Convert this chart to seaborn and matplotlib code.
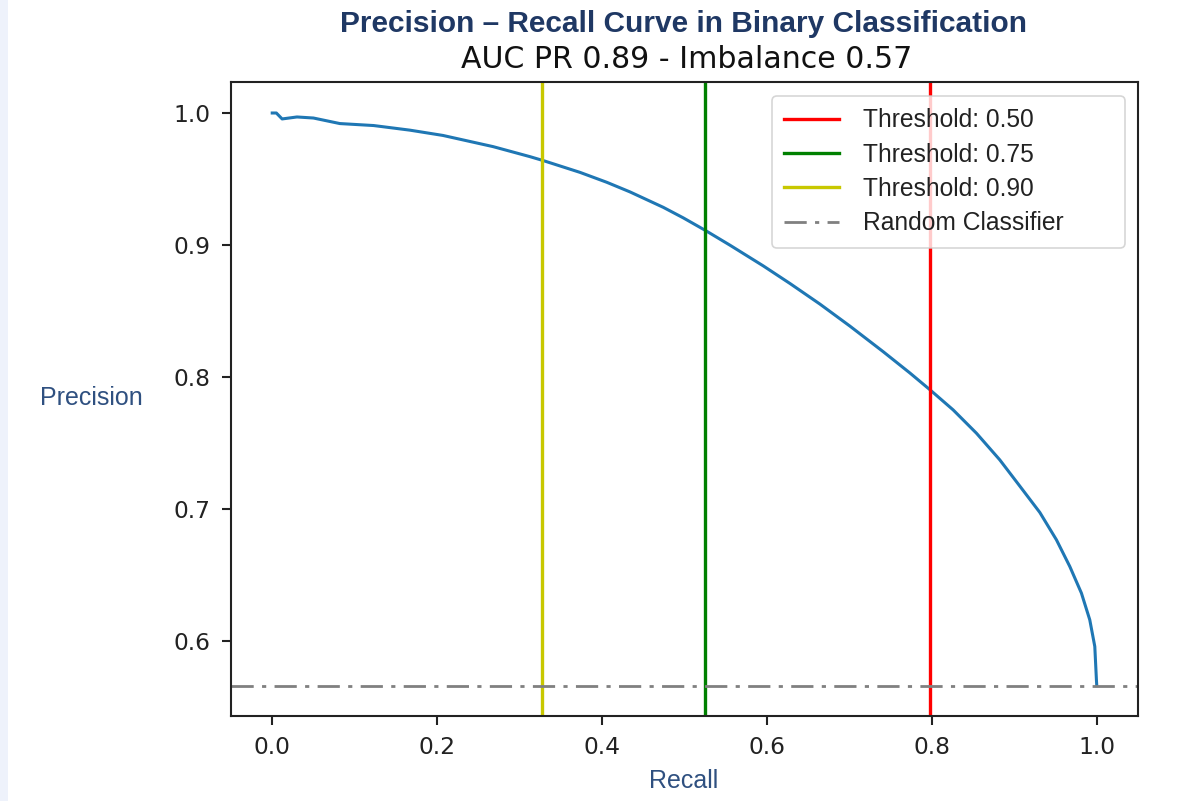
import matplotlib
matplotlib.use("Agg")
import matplotlib.pyplot as plt
import seaborn as sns
import pandas as pd
from matplotlib.patches import Rectangle

# ---- data ----
recall = [0.0, 0.005, 0.012, 0.03, 0.05, 0.082, 0.123, 0.167, 0.207, 0.268,
          0.3127, 0.3289, 0.3733, 0.4057, 0.4339, 0.4743, 0.4986, 0.5248, 0.5552,
          0.5956, 0.6279, 0.6642, 0.7006, 0.7410, 0.7733, 0.7976,
          0.8258, 0.8541, 0.8824, 0.9067, 0.9309, 0.9511, 0.9673, 0.9814,
          0.9915, 0.9976, 0.9996, 1.0]
precision = [1.0, 1.0, 0.9955, 0.997, 0.9962, 0.992, 0.9905, 0.987, 0.983, 0.9745,
             0.9669, 0.9639, 0.9550, 0.9475, 0.9402, 0.9285, 0.9205, 0.9112, 0.8998,
             0.8841, 0.8708, 0.8552, 0.8385, 0.8191, 0.8030, 0.7903,
             0.7750, 0.7573, 0.7371, 0.7172, 0.6973, 0.6765, 0.6563, 0.6361,
             0.6159, 0.5957, 0.5700, 0.566]
threshold_labels = ["Threshold: 0.50", "Threshold: 0.75", "Threshold: 0.90"]
threshold_recall = [0.798, 0.525, 0.327]
threshold_colors = ["red", "green", "#c8c800"]
baseline = 0.566
title = "Precision \u2013 Recall Curve in Binary Classification"
subtitle = "AUC PR 0.89 - Imbalance 0.57"
xticks = [0.0, 0.2, 0.4, 0.6, 0.8, 1.0]
yticks = [0.6, 0.7, 0.8, 0.9, 1.0]

df = pd.DataFrame({"Recall": recall, "Precision": precision})

fig = plt.figure(figsize=(11.9, 8.01), dpi=100)
fig.patch.set_facecolor("white")
fig.patches.append(Rectangle((0, 0), 8 / 1190, 1, transform=fig.transFigure,
                             facecolor="#eef2fb", edgecolor="none", zorder=-1))
ax = fig.add_axes([231 / 1190, 1 - 716 / 801, (1138 - 231) / 1190, (716 - 82) / 801])

sns.lineplot(data=df, x="Recall", y="Precision", ax=ax, color="#1f77b4",
             linewidth=2.2, sort=False, estimator=None)
for xv, lab, c in zip(threshold_recall, threshold_labels, threshold_colors):
    ax.axvline(xv, color=c, linewidth=2.4, label=lab)
ax.axhline(baseline, color="gray", linestyle="-.", linewidth=2.0, label="Random Classifier",
           dashes=(8, 3, 1.5, 3))

ax.set_xlim(-0.05, 1.05)
ax.set_ylim(0.543, 1.0235)
ax.set_xticks(xticks)
ax.set_yticks(yticks)
ax.tick_params(labelsize=16.8, length=6.5, width=1.5, colors="#222222", pad=8)
for s in ax.spines.values():
    s.set_linewidth(1.5)
    s.set_color("#222222")

ax.set_xlabel("")
ax.set_ylabel("")
label_color = "#2f5080"
fig.text(684 / 1190, 1 - 781 / 801, "Recall", ha="center", va="center",
         fontsize=18, color=label_color, family="Liberation Sans")
fig.text(91 / 1190, 1 - 398 / 801, "Precision", ha="center", va="center",
         fontsize=18, color=label_color, family="Liberation Sans")

fig.text(683 / 1190, 1 - 24 / 801, title, ha="center", va="center", fontsize=21.5,
         fontweight="bold", color="#1f3864", family="Liberation Sans")
fig.text(687 / 1190, 1 - 60 / 801, subtitle, ha="center", va="center", fontsize=21.6,
         color="#111111", family="DejaVu Sans")

x0 = (772 - 231) / 907
x1 = (1125 - 231) / 907
ytop = 1 - (96 - 82) / 634
leg = ax.legend(loc="upper left", bbox_to_anchor=(x0, ytop - 0.5, x1 - x0, 0.5),
                mode="expand", borderaxespad=0.0,
                prop={"family": "Liberation Sans", "size": 17.75},
                handlelength=2.2, handletextpad=1.0, labelspacing=0.42,
                borderpad=0.5, frameon=True, fancybox=True)
leg.get_frame().set_edgecolor("#cccccc")
leg.get_frame().set_linewidth(1.2)
for t in leg.get_texts():
    t.set_color("#222222")

fig.savefig("out.png", dpi=100)
